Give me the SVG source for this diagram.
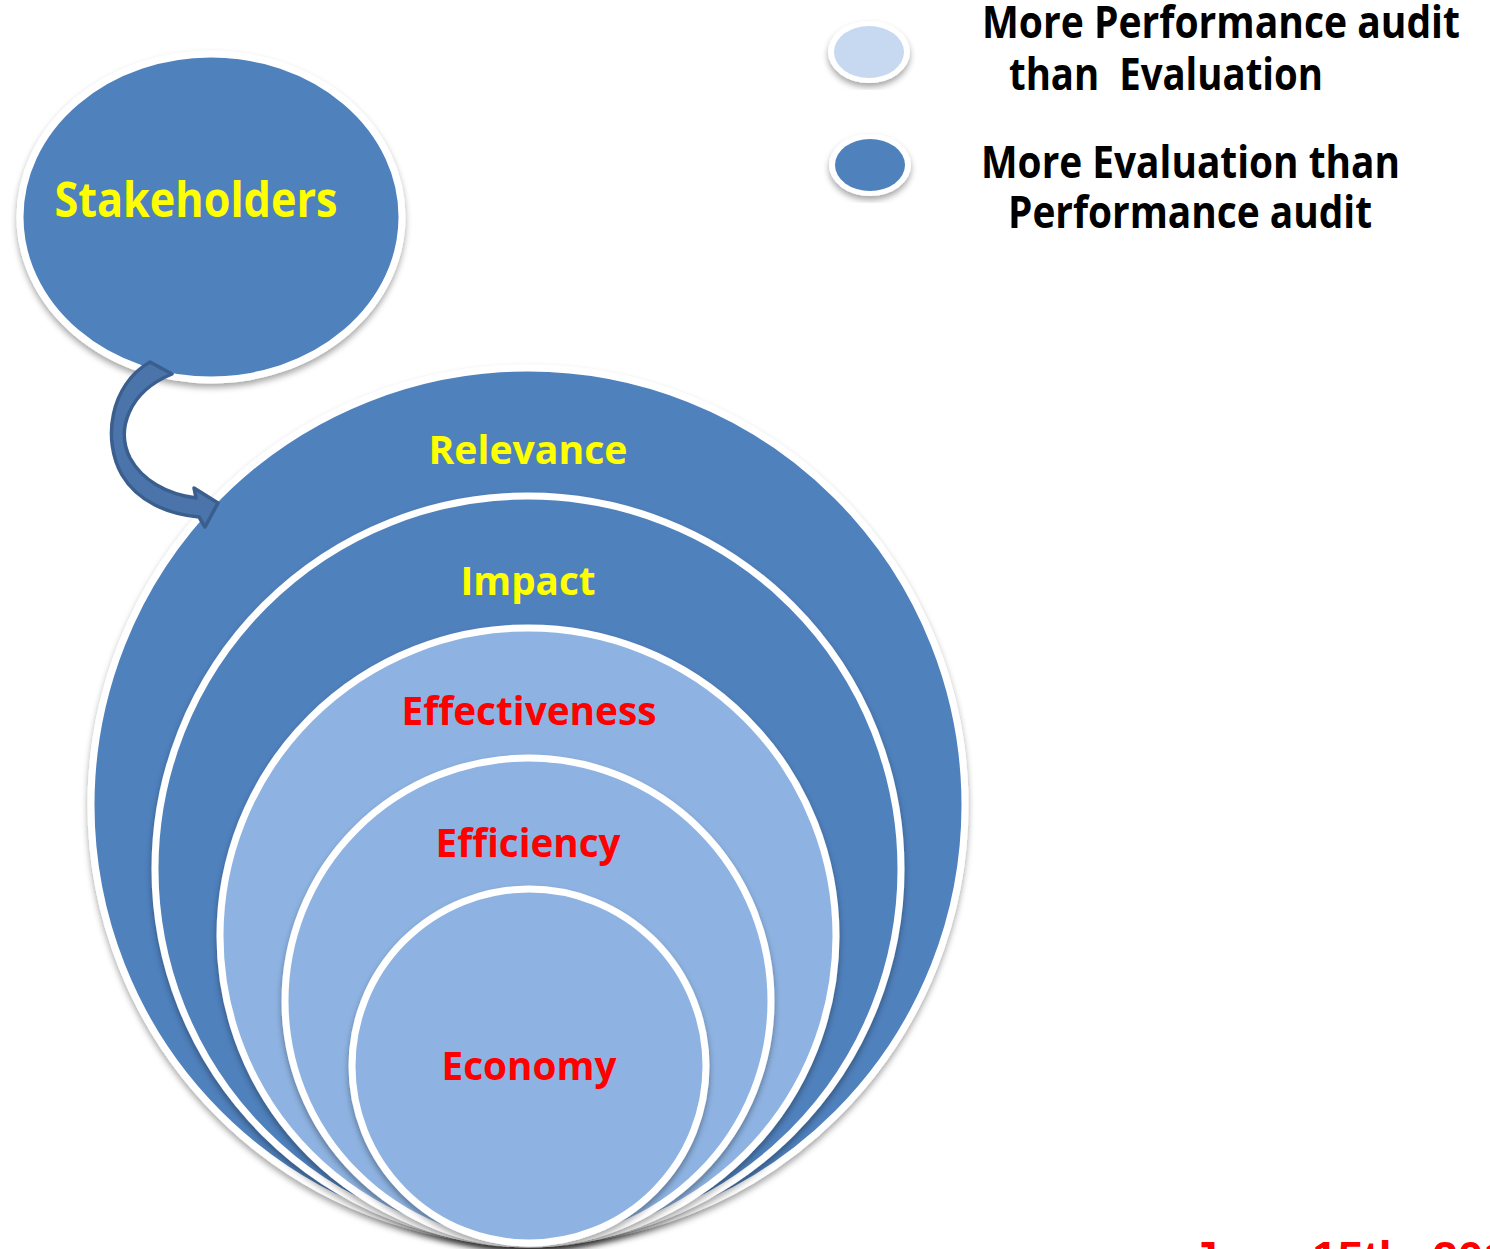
<svg xmlns="http://www.w3.org/2000/svg" width="1490" height="1249" viewBox="0 0 1490 1249">
<defs>
<style>
.dark{fill:#4F81BD;stroke:#FFFFFF;stroke-width:7;filter:url(#sh);}
.light{fill:#8EB3E2;stroke:#FFFFFF;stroke-width:7;filter:url(#sh);}
.lbl{font-family:"Open Sans","Liberation Sans",sans-serif;font-weight:bold;text-anchor:middle;}
.y{fill:#FFFF00;}
.r{fill:#FF0000;}
.leg{font-family:"Open Sans","Liberation Sans",sans-serif;font-weight:bold;fill:#000000;font-size:44px;}
</style>
<filter id="sh" x="-10%" y="-10%" width="120%" height="120%">
<feDropShadow dx="0" dy="4" stdDeviation="3" flood-color="#000000" flood-opacity="0.35"/>
</filter>
</defs>
<rect width="1490" height="1249" fill="#FFFFFF"/>
<g id="stakeholders">
<ellipse class="dark" cx="211" cy="217" rx="191" ry="163"/>
<text class="lbl y" x="196" y="217" font-size="48" textLength="283" lengthAdjust="spacingAndGlyphs">Stakeholders</text>
</g>
<g id="relevance">
<circle class="dark" cx="528" cy="805" r="437"/>
<text class="lbl y" x="528" y="464" font-size="39" textLength="199" lengthAdjust="spacingAndGlyphs">Relevance</text>
</g>
<g id="impact">
<circle class="dark" cx="528" cy="869" r="373"/>
<text class="lbl y" x="528" y="595" font-size="39" textLength="135" lengthAdjust="spacingAndGlyphs">Impact</text>
</g>
<g id="effectiveness">
<circle class="light" cx="528" cy="936" r="308"/>
<text class="lbl r" x="529" y="725" font-size="39" textLength="255" lengthAdjust="spacingAndGlyphs">Effectiveness</text>
</g>
<g id="efficiency">
<circle class="light" cx="528" cy="1001" r="243"/>
<text class="lbl r" x="528" y="857" font-size="39" textLength="185" lengthAdjust="spacingAndGlyphs">Efficiency</text>
</g>
<g id="economy">
<circle class="light" cx="529" cy="1066" r="177"/>
<text class="lbl r" x="529" y="1080" font-size="39" textLength="175" lengthAdjust="spacingAndGlyphs">Economy</text>
</g>
<g id="connectors">
<path d="M 150,362 C 110,385 102,440 122,475 C 138,502 168,514 199,517 L 205,527 L 218,503 L 194,488 L 196,498 C 166,494 142,480 130,458 C 116,430 128,392 172,374 Z" fill="#4A74AA" stroke="#3A5F8E" stroke-width="3.5" stroke-linejoin="round"/>
</g>
<g id="legend-light">
<ellipse cx="869" cy="52" rx="41" ry="31" fill="#FFFFFF" filter="url(#sh)"/>
<ellipse cx="869" cy="52" rx="35" ry="26" fill="#C6D9F1"/>
<text class="leg" x="982" y="38" textLength="478" lengthAdjust="spacingAndGlyphs">More Performance audit</text>
<text class="leg" x="1009" y="90" textLength="314" lengthAdjust="spacingAndGlyphs" xml:space="preserve">than  Evaluation</text>
</g>
<g id="legend-dark">
<ellipse cx="870" cy="165" rx="41" ry="31" fill="#FFFFFF" filter="url(#sh)"/>
<ellipse cx="870" cy="165" rx="35" ry="26" fill="#4F81BD"/>
<text class="leg" x="981" y="178" textLength="419" lengthAdjust="spacingAndGlyphs">More Evaluation than</text>
<text class="leg" x="1008" y="228" textLength="364" lengthAdjust="spacingAndGlyphs">Performance audit</text>
</g>
<text x="1192" y="1274" font-family="Liberation Sans, Arial, sans-serif" font-weight="bold" font-size="46" fill="#FF0000">June 15th, 2013</text>
</svg>
